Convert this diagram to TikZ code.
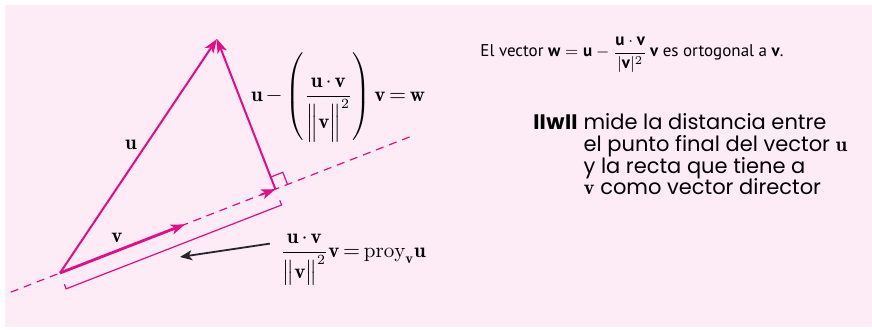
\documentclass[tikz,border=0pt]{standalone}
\usepackage{amsmath,amssymb}
\usepackage{fontspec}
\newfontfamily\notefont{PT Sans}
\newfontfamily\distfont{Poppins}
\usepackage{tikz}
\usetikzlibrary{arrows.meta,positioning,calc}
\definecolor{vecpink}{RGB}{230,12,135}
\definecolor{bgpink}{RGB}{253,235,246}
\newcommand\tightmath{\medmuskip=2.5mu\relax\thickmuskip=3mu\relax}

\begin{document}
\begin{tikzpicture}[x=0.5pt,y=-0.5pt,vec/.style={vecpink,line width=1pt,-{Stealth[length=7pt,width=5pt,inset=1.8pt]}},guide/.style={vecpink,line width=0.6pt,dash pattern=on 4pt off 3pt},edgeline/.style={vecpink,line width=0.6pt},pointer/.style={black!85,line width=0.9pt,-{Stealth[length=6pt,width=5pt,inset=1.5pt]}},lbl/.style={font=\fontsize{10.5}{12.5}\selectfont\tightmath,inner sep=1pt},note/.style={font=\notefont\fontsize{8.5}{10}\selectfont,inner sep=0pt}]
\useasboundingbox (0,0) rectangle (872,330);
\fill[bgpink] (5,5) rectangle (872,327);
\coordinate (O) at (60,273);
\coordinate (U) at (217,39);
\coordinate (L) at (412,136);
\coordinate (D) at ($(O)!-0.14!(L)$);
\coordinate (V) at ($(O)!0.355!(L)$);
\coordinate (P) at ($(O)!(U)!(L)$);
\coordinate (Sa) at ($(P)!6.5pt!(L)$);
\coordinate (Sb) at ($(P)!6.5pt!(U)$);
\coordinate (B1) at ($(O)!8.5pt!-90:(P)$);
\coordinate (B2) at ($(P)!8.5pt!90:(O)$);
\draw[guide] (D) -- (L);
\draw[edgeline] (Sa) -- ($(Sa)+(Sb)-(P)$) -- (Sb);
\draw[edgeline] ($(B1)!2.5pt!(O)$) -- (B1) -- (B2) -- ($(B2)!2.5pt!(P)$);
\draw[vec] ($(P)!8pt!(O)$) -- (P);
\draw[vec,line width=1.4pt] (O) -- (V);
\draw[vec] (O) -- (U);
\draw[vec] (P) -- (U);
\node[lbl] (ulbl) at (131,145) {$\mathbf{u}$};
\node[lbl] (vlbl) at (117,238) {$\mathbf{v}$};
\node[lbl,anchor=base] (wlbl) at (338,102) {$\mathbf{u}-\left(\dfrac{\mathbf{u}\cdot\mathbf{v}}{\Bigl\|\mathbf{v}\Bigr\|^{2}}\right)\mathbf{v}=\mathbf{w}$};
\node[lbl,anchor=base] (proj) at (353,258) {$\dfrac{\mathbf{u}\cdot\mathbf{v}}{\bigl\|\mathbf{v}\bigr\|^{2}}\mathbf{v}=\mathrm{proy}_{\mathbf{v}}\mathbf{u}$};
\coordinate (tip) at (180,257);
\draw[pointer] ([xshift=-4pt,yshift=8pt]proj.west) -- (tip);
\node[note,anchor=base west] (rule) at (480,57) {El vector $\textbf{w}=\textbf{u}-\dfrac{\textbf{u}\cdot\textbf{v}}{|\textbf{v}|^{2}}\,\textbf{v}$ es ortogonal a $\textbf{v}$.};
\node[anchor=base west,inner sep=0pt,font=\distfont\fontsize{10.5}{9.4}\selectfont] (dist) at (533,130) {\begin{tabular}[t]{@{}l@{\hspace{3pt}}l@{}}\textbf{II\kern0.3pt w\kern0.3pt II} & mide la distancia entre\\ & el punto final del vector $\mathbf{u}$\\ & y la recta que tiene a\\ & $\mathbf{v}$ como vector director\end{tabular}};
\end{tikzpicture}
\end{document}
